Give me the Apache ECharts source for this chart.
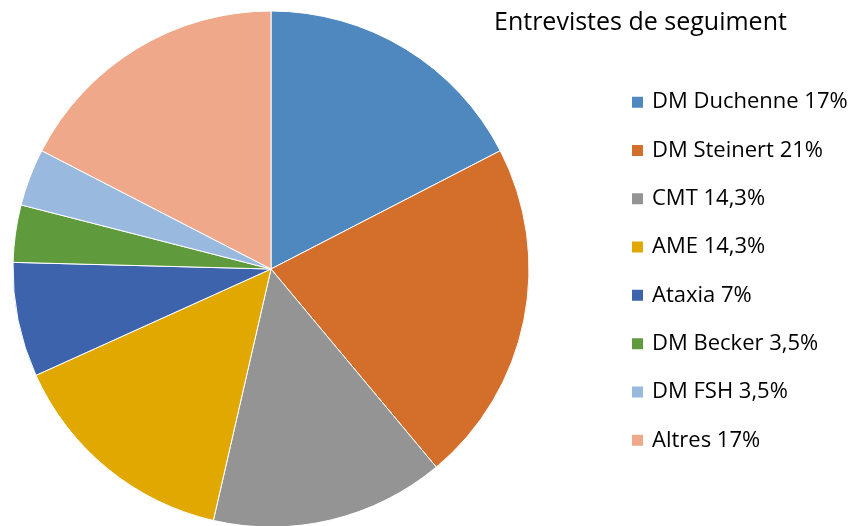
<!DOCTYPE html>
<html>
<head>
<meta charset="utf-8">
<script src="https://cdn.jsdelivr.net/npm/echarts@6/dist/echarts.min.js"></script>
<style>
  html, body { margin: 0; padding: 0; background: #fff; }
  #chart { width: 861px; height: 526px; }
</style>
</head>
<body>
<div id="chart"></div>
<script>
// data
const categories = ['DM Duchenne 17%', 'DM Steinert 21%', 'CMT 14,3%', 'AME 14,3%',
  'Ataxia 7%', 'DM Becker 3,5%', 'DM FSH 3,5%', 'Altres 17%'];
const values = [17, 21, 14.3, 14.3, 7, 3.5, 3.5, 17];
const colors = ['#4F88BF', '#D46E2B', '#949494', '#E0A800', '#3D63AD', '#5F9A3D', '#9AB9DF', '#F0A88A'];

let chart = echarts.init(document.getElementById('chart'));
let option = {
  animation: false,
  color: colors,
  title: {
    text: 'Entrevistes de seguiment',
    left: 489,
    top: 5,
    textStyle: {
      fontFamily: 'Open Sans',
      fontSize: 25,
      fontWeight: 'normal',
      color: '#000'
    }
  },
  legend: {
    orient: 'vertical',
    left: 625,
    top: 86,
    icon: 'rect',
    itemWidth: 13,
    itemHeight: 13,
    itemGap: 26,
    textStyle: {
      fontFamily: 'Open Sans',
      fontSize: 22,
      lineHeight: 22.3,
      color: '#000',
      padding: [0, 0, 0, 3]
    },
    data: categories
  },
  series: [{
    type: 'pie',
    center: [271, 269],
    radius: 258,
    startAngle: 90,
    clockwise: true,
    label: { show: false },
    labelLine: { show: false },
    emphasis: { disabled: true },
    itemStyle: { borderColor: '#fff', borderWidth: 1 },
    data: categories.map((name, i) => ({ name: name, value: values[i] }))
  }]
};
chart.setOption(option);
</script>
</body>
</html>
